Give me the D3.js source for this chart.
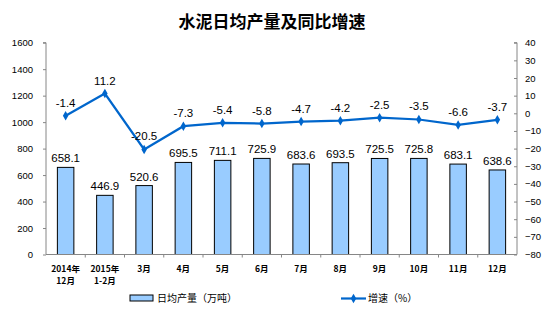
<!DOCTYPE html>
<html><head><meta charset="utf-8">
<script src="https://cdn.jsdelivr.net/npm/d3@7"></script>
<style>body{margin:0;background:#fff}svg{display:block}</style>
</head><body>
<svg id="c" width="544" height="326"></svg>
<script>
const categories = [["2014年","12月"],["2015年","1-2月"],["3月"],["4月"],["5月"],["6月"],["7月"],["8月"],["9月"],["10月"],["11月"],["12月"]];
const output = [658.1, 446.9, 520.6, 695.5, 711.1, 725.9, 683.6, 693.5, 725.5, 725.8, 683.1, 638.6];
const growth = [-1.4, 11.2, -20.5, -7.3, -5.4, -5.8, -4.7, -4.2, -2.5, -3.5, -6.6, -3.7];
const leftTicks = [0,200,400,600,800,1000,1200,1400,1600];
const rightTicks = [-80,-70,-60,-50,-40,-30,-20,-10,0,10,20,30,40];
const title = "水泥日均产量及同比增速";
const legendBar = "日均产量（万吨）";
const legendLine = "增速（%）";

const svg = d3.select("#c");
const font = "Arial, 'Liberation Sans', 'Noto Sans CJK SC', sans-serif";
const L = 46, R = 517, T = 42.7, B = 254.5;
const x = d3.scaleBand().domain(d3.range(categories.length)).range([L, R]).paddingInner(0.58).paddingOuter(0.29);
const yL = d3.scaleLinear().domain([0,1600]).range([B,T]);
const yR = d3.scaleLinear().domain([-80,40]).range([B,T]);
const cx = i => x(i) + x.bandwidth()/2;
const axisColor = "#868686";

svg.append("text").attr("x",272).attr("y",28).attr("text-anchor","middle")
  .attr("font-family","'Noto Sans CJK SC', sans-serif").attr("font-weight","bold")
  .attr("font-size",17).text(title);

// bars
svg.selectAll("rect.bar").data(output).join("rect").attr("class","bar")
  .attr("x",(d,i)=>x(i)).attr("width",x.bandwidth())
  .attr("y",d=>yL(d)).attr("height",d=>B-yL(d))
  .attr("fill","#99CCFF").attr("stroke","#000").attr("stroke-width",1);

// left axis
const gl = svg.append("g").attr("transform",`translate(${L},0)`)
  .call(d3.axisLeft(yL).tickValues(leftTicks).tickFormat(d3.format("d")).tickSize(3).tickPadding(10));
gl.select(".domain").attr("stroke",axisColor).attr("d",`M-3,${T}H0V${B}`);
gl.selectAll(".tick line").attr("stroke",axisColor);
gl.selectAll("text").attr("font-family",font).attr("font-size",9.5).attr("fill","#000");

// right axis
const gr = svg.append("g").attr("transform",`translate(${R},0)`)
  .call(d3.axisRight(yR).tickValues(rightTicks).tickFormat(d3.format("d")).tickSize(-3).tickPadding(8));
gr.select(".domain").attr("stroke",axisColor).attr("d",`M-3,${T}H0V${B}H-3`);
gr.selectAll(".tick line").attr("stroke",axisColor);
gr.selectAll("text").attr("font-family",font).attr("font-size",9.5).attr("fill","#000");

// bottom axis
const gb = svg.append("g");
gb.append("line").attr("x1",L).attr("x2",R).attr("y1",B).attr("y2",B).attr("stroke",axisColor);
gb.selectAll("line.t").data(d3.range(1,categories.length)).join("line").attr("class","t")
  .attr("x1",i=>x(i)-x.step()*x.paddingInner()/2).attr("x2",i=>x(i)-x.step()*x.paddingInner()/2)
  .attr("y1",B).attr("y2",B+3).attr("stroke",axisColor);
categories.forEach((c,i)=>{
  c.forEach((s,j)=>{
    gb.append("text").attr("x",cx(i)).attr("y",272+j*12).attr("text-anchor","middle")
      .attr("font-family","'Noto Sans CJK SC', sans-serif").attr("font-size",8.5).attr("font-weight","bold")
      .attr("fill","#000").text(s);
  });
});

// bar labels
svg.selectAll("text.bl").data(output).join("text").attr("class","bl")
  .attr("x",(d,i)=>cx(i)).attr("y",d=>yL(d)-5).attr("text-anchor","middle")
  .attr("font-family",font).attr("font-size",11.5).attr("fill","#000").text(d=>d.toFixed(1));

// line
const line = d3.line().x((d,i)=>cx(i)).y(d=>yR(d));
svg.append("path").datum(growth).attr("d",line).attr("fill","none").attr("stroke","#0066CC").attr("stroke-width",2.2);
const diamond = d3.symbol().type(d3.symbolDiamond).size(26);
svg.selectAll("path.m").data(growth).join("path").attr("class","m")
  .attr("transform",(d,i)=>`translate(${cx(i)},${yR(d)})`).attr("d",diamond).attr("fill","#0066CC");
svg.selectAll("text.ll").data(growth).join("text").attr("class","ll")
  .attr("x",(d,i)=>cx(i)).attr("y",d=>yR(d)-9).attr("text-anchor","middle")
  .attr("font-family",font).attr("font-size",11.5).attr("fill","#000").text(d=>d.toFixed(1));

// legend
const lg = svg.append("g");
lg.append("rect").attr("x",130).attr("y",295).attr("width",23).attr("height",6)
  .attr("fill","#99CCFF").attr("stroke","#000");
lg.append("text").attr("x",157).attr("y",302).attr("font-family","'Noto Sans CJK SC', sans-serif")
  .attr("font-size",10).attr("fill","#000").text(legendBar);
lg.append("line").attr("x1",341).attr("x2",366).attr("y1",298.5).attr("y2",298.5).attr("stroke","#0066CC").attr("stroke-width",2.2);
lg.append("path").attr("transform","translate(353.5,298.5)").attr("d",diamond).attr("fill","#0066CC");
lg.append("text").attr("x",368).attr("y",302).attr("font-family","'Noto Sans CJK SC', sans-serif")
  .attr("font-size",10).attr("fill","#000").text(legendLine);
</script>
</body></html>
